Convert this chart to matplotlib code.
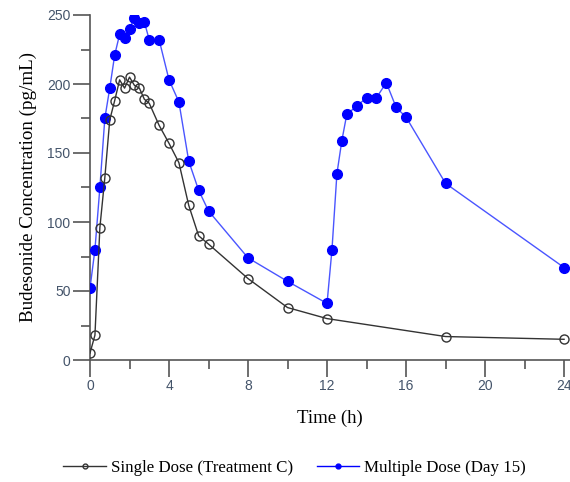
import matplotlib.pyplot as plt
from matplotlib.lines import Line2D
from matplotlib.ticker import MultipleLocator

# time points (h) and concentrations (pg/mL)
t_single = [0, 0.25, 0.5, 0.75, 1, 1.25, 1.5, 1.75, 2, 2.25, 2.5, 2.75, 3, 3.5,
            4, 4.5, 5, 5.5, 6, 8, 10, 12, 18, 24]
c_single = [5, 18, 96, 132, 174, 188, 203, 197, 205, 199, 197, 189, 186, 170,
            157, 143, 112, 90, 84, 59, 38, 30, 17, 15]

t_multi = [0, 0.25, 0.5, 0.75, 1, 1.25, 1.5, 1.75, 2, 2.25, 2.5, 2.75, 3, 3.5,
           4, 4.5, 5, 5.5, 6, 8, 10, 12, 12.25, 12.5, 12.75, 13, 13.5, 14,
           14.5, 15, 15.5, 16, 18, 24]
c_multi = [52, 80, 125, 175, 197, 221, 236, 233, 240, 248, 244, 245, 232, 232,
           203, 187, 144, 123, 108, 74, 57, 41, 80, 135, 159, 178, 184, 190,
           190, 201, 183, 176, 128, 67]

label_single = 'Single Dose (Treatment C)'
label_multi = 'Multiple Dose (Day 15)'

fig = plt.figure(figsize=(5.7, 4.82), dpi=100)
ax = fig.add_axes([90 / 570, 122 / 482, 480 / 570, 345 / 482])

ax.plot(t_single, c_single, color='#333333', lw=1, marker='o', ms=6.5,
        mfc='none', mec='#333333', mew=1, zorder=3)
ax.plot(t_multi, c_multi, color='#4a55ff', lw=1, marker='o', ms=7,
        mfc='#0000ff', mec='#0000ff', zorder=2)

ax.set_xlim(0, 24.3)
ax.set_ylim(0, 250)
ax.xaxis.set_major_locator(MultipleLocator(4))
ax.xaxis.set_minor_locator(MultipleLocator(2))
ax.yaxis.set_major_locator(MultipleLocator(50))
ax.yaxis.set_minor_locator(MultipleLocator(25))

for s in ['top', 'right']:
    ax.spines[s].set_visible(False)
for s in ['left', 'bottom']:
    ax.spines[s].set_color('#555555')
    ax.spines[s].set_linewidth(1.2)
    ax.spines[s].set_zorder(1)

ax.tick_params(which='major', length=12, width=1.2, color='#555555',
               labelsize=10, labelcolor='#44546a', pad=2)
ax.tick_params(which='minor', length=6.5, width=1.2, color='#555555')
for lab in ax.get_xticklabels() + ax.get_yticklabels():
    lab.set_fontfamily('Liberation Sans')
# last x label sits at the right edge; nudge it inside like the reference
ax.get_xticklabels()[-1].set_horizontalalignment('right')

serif = 'Liberation Serif'
ax.set_xlabel('Time (h)', fontfamily=serif, fontsize=13.5, labelpad=12)
ax.set_ylabel('Budesonide Concentration (pg/mL)', fontfamily=serif,
              fontsize=13.7, labelpad=7)

handles = [
    Line2D([], [], color='#333333', lw=1, marker='o', ms=3.5, mfc='none',
           mec='#333333'),
    Line2D([], [], color='#0000ff', lw=1, marker='o', ms=3.5, mfc='#0000ff',
           mec='#0000ff'),
]
fig.legend(handles, [label_single, label_multi], loc='center',
           bbox_to_anchor=(0.517, 0.03), ncol=2, frameon=False,
           prop={'family': serif, 'size': 12.2}, handlelength=2.5,
           columnspacing=1.4, handletextpad=0.3)

fig.savefig('out.png', dpi=100)
